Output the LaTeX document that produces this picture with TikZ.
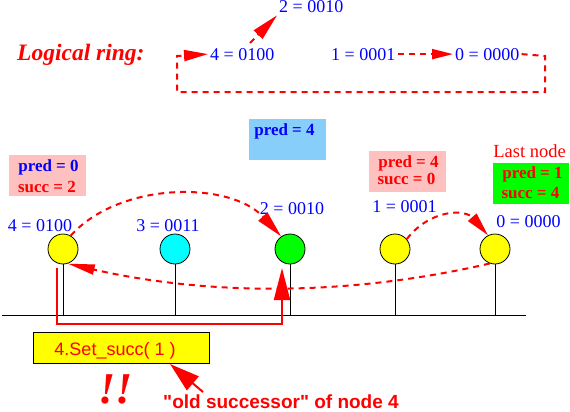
\documentclass[tikz,border=0pt]{standalone}
\usepackage{fontspec}
\setmainfont{Liberation Serif}
\setsansfont{Liberation Sans}
\newfontfamily\rawsans{Liberation Sans}
\usetikzlibrary{arrows.meta}
\definecolor{pinkbg}{RGB}{255,192,192}
\definecolor{skyb}{RGB}{135,206,250}
\definecolor{grn}{RGB}{0,255,0}
\definecolor{cyn}{RGB}{0,255,255}
\definecolor{yel}{RGB}{255,255,0}
\definecolor{rd}{RGB}{255,0,0}
\definecolor{bl}{RGB}{0,0,255}
\begin{document}
\begin{tikzpicture}[x=1pt,y=-1pt,
  lbl/.style={text=bl, inner sep=0pt, font=\fontsize{18}{18}\selectfont},
  ringlbl/.style={text=bl, inner sep=2pt, anchor=base west, font=\fontsize{18}{18}\selectfont},
  btxt/.style={inner sep=0pt, font=\bfseries\fontsize{17}{17}\selectfont},
  panel/.style={draw=none, inner sep=0pt},
  ball/.style={circle, draw=black, line width=0.8pt, minimum size=30pt, inner sep=0pt},
  stem/.style={draw=black, line width=0.9pt},
  dashr/.style={draw=rd, line width=2pt, dash pattern=on 6pt off 5pt},
  tipA/.style={-{Triangle[length=24pt,width=11pt]}},
  solidr/.style={draw=rd, line width=2pt},
]
\useasboundingbox (0,0) rectangle (570,412);

% ---------- logical ring ----------
\node[text=rd, inner sep=0pt, anchor=base west, font=\bfseries\itshape\fontsize{23.5}{23.5}\selectfont] (title) at (17,60) {Logical ring:};
\node[ringlbl] (r4) at (208,60) {4 = 0100};
\node[ringlbl] (r2) at (277,13) {2 = 0010};
\node[ringlbl] (r1) at (329,60) {1 = 0001};
\node[ringlbl] (r0) at (453,60) {0 = 0000};
\coordinate (c1) at (545,56);
\coordinate (c2) at (545,92);
\coordinate (c3) at (177,92);
\coordinate (c4) at (177,56);
\coordinate (a42) at (250,43);
\draw[dashr, tipA] (r0.east) -- (c1) -- (c2) -- (c3) -- (c4) -- (r4.west);
\draw[dashr, -{Triangle[length=21pt,width=10pt]}] (r1.east) -- (r0.west);
\draw[dashr, -{Triangle[length=27pt,width=12pt]}] (a42) -- (r2.south west);

% ---------- info panels ----------
\node[panel, fill=pinkbg, minimum width=77pt, minimum height=41pt] (p1) at (47.5,175.5) {};
\node[btxt, text=bl] (p1a) at (48.5,167) {pred = 0};
\node[btxt, text=rd] (p1b) at (47,187) {succ = 2};

\node[panel, fill=skyb, minimum width=77pt, minimum height=41pt] (p2) at (287.5,139.5) {};
\node[btxt, text=bl] (p2a) at (284.5,131) {pred = 4};

\node[panel, fill=pinkbg, minimum width=77pt, minimum height=41pt] (p3) at (407.5,171.5) {};
\node[btxt, text=rd] (p3a) at (408.5,163) {pred = 4};
\node[btxt, text=rd] (p3b) at (406.5,179) {succ = 0};

\node[text=rd, inner sep=0pt, font=\fontsize{18.5}{18.5}\selectfont] (last) at (529.5,151) {Last node};
\node[panel, fill=grn, minimum width=76pt, minimum height=41pt] (p4) at (531,183.5) {};
\node[btxt, text=rd] (p4a) at (532.5,174) {pred = 1};
\node[btxt, text=rd] (p4b) at (530.5,193) {succ = 4};

% ---------- nodes ----------
\node[lbl] (l4) at (40,226) {4 = 0100};
\node[lbl] (l3) at (168,226) {3 = 0011};
\node[lbl] (l2) at (292,209) {2 = 0010};
\node[lbl] (l1) at (404.5,207) {1 = 0001};
\node[lbl] (l0) at (528.5,222) {0 = 0000};

\coordinate (bL) at (2,315);
\coordinate (bR) at (526,315);
\draw[black, line width=1pt] (bL) -- (bR);

\node[ball, fill=yel] (n4) at (63,249) {};
\node[ball, fill=cyn] (n3) at (175,249) {};
\node[ball, fill=grn] (n2) at (290,249) {};
\node[ball, fill=yel] (n1) at (395,249) {};
\node[ball, fill=yel] (n0) at (495,249) {};
\foreach \n in {n4,n3,n2,n1,n0} {\draw[stem] (\n.south) -- (\n.south |- bL);}

\draw[dashr, -{Triangle[length=27pt,width=12pt]}] (n4.60) .. controls (120,181) and (230,181) .. (n2.125);
\draw[dashr, -{Triangle[length=24pt,width=11pt]}] (n1.40) .. controls (430,209) and (465,209) .. (n0.117);
\draw[dashr, -{Triangle[length=27pt,width=10pt]}] (n0.250) .. controls (350,296) and (210,296) .. (n4.288);

% ---------- set_succ ----------
\coordinate (s1) at (57,268);
\coordinate (s2) at (282,324);
\coordinate (s3) at (282,268);
\draw[solidr, -{Triangle[length=32pt,width=16pt]}] (s1) |- (s2) -- (s3);

\node[draw=black, line width=0.9pt, fill=yel, minimum width=176pt, minimum height=31pt, inner sep=0pt] (yb) at (121,347.5) {};
\node[text=rd, inner sep=0pt, font=\sffamily\fontsize{18}{18}\selectfont] (call) at (115,351) {4.Set\_succ( 1 )};

\coordinate (pq) at (203,392);
\coordinate (pt) at (170,364);
\draw[solidr, -{Triangle[length=30pt,width=18pt]}] (pq) -- (pt);

\node[text=rd, inner sep=0pt, anchor=base, font=\bfseries\itshape\fontsize{44}{44}\selectfont] (bang) at (116,403) {!!};
\node[text=rd, inner sep=0pt, anchor=base, font=\rawsans\bfseries\fontsize{19}{19}\selectfont] (old) at (281,408.5) {"old successor" of node 4};
\end{tikzpicture}
\end{document}
